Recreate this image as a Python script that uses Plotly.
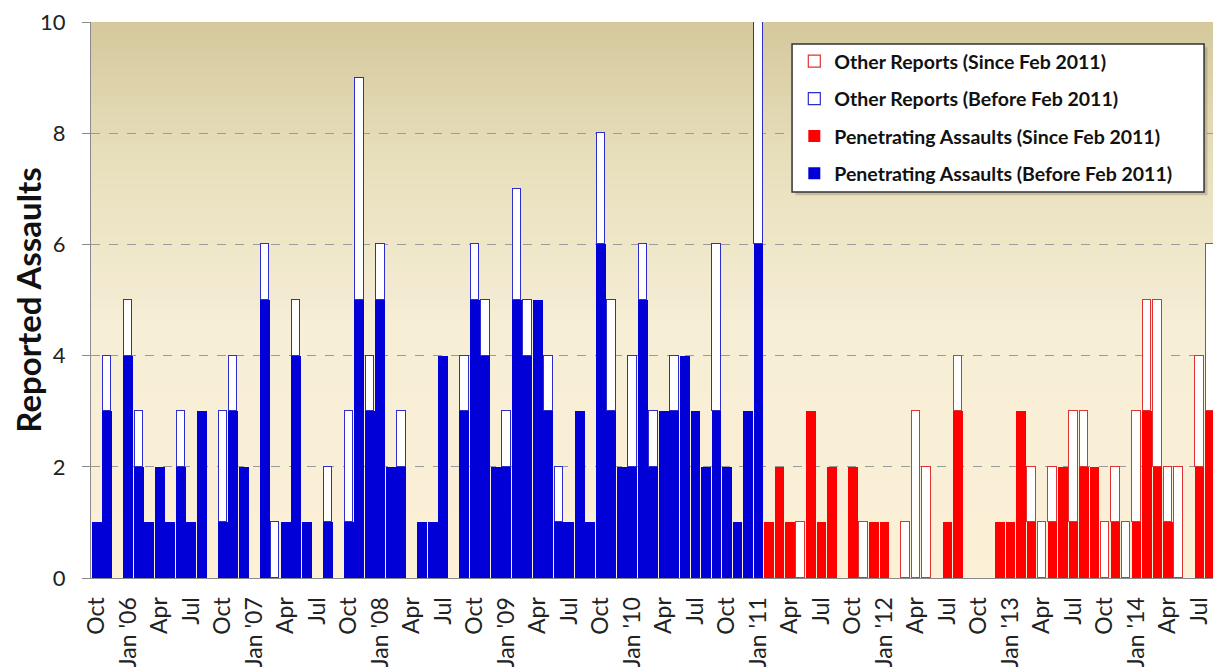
import plotly.graph_objects as go

# Month index 0 = Oct 2005 ... 107 = Sep 2014
# Before Feb 2011: index 0..63 (Oct 2005 .. Jan 2011)
pen_before = [1, 3, 0, 4, 2, 1, 2, 1, 2, 1, 3, 0,
              1, 3, 2, 0, 5, 0, 1, 4, 1, 0, 1, 0,
              1, 5, 3, 5, 2, 2, 0, 1, 1, 4, 0, 3,
              5, 4, 2, 2, 5, 4, 5, 3, 1, 1, 3, 1,
              6, 3, 2, 2, 5, 2, 3, 3, 4, 3, 2, 3,
              2, 1, 3, 6]
other_before = [0, 1, 0, 1, 1, 0, 0, 0, 1, 0, 0, 0,
                2, 1, 0, 0, 1, 1, 0, 1, 0, 0, 1, 0,
                2, 4, 1, 1, 0, 1, 0, 0, 0, 0, 0, 1,
                1, 1, 0, 1, 2, 1, 0, 1, 1, 0, 0, 0,
                2, 2, 0, 2, 1, 1, 0, 1, 0, 0, 0, 3,
                0, 0, 0, 4]
# Since Feb 2011: index 64..107 (Feb 2011 .. Sep 2014)
pen_since = [1, 2, 1, 0, 3, 1, 2, 0, 2, 0, 1,
             1, 0, 0, 0, 0, 0, 1, 3, 0, 0, 0, 1,
             1, 3, 1, 0, 1, 2, 1, 2, 2, 0, 1, 0,
             1, 3, 2, 1, 0, 0, 2, 3, 0]
other_since = [0, 0, 0, 1, 0, 0, 0, 0, 0, 1, 0,
               0, 0, 1, 3, 2, 0, 0, 1, 0, 0, 0, 0,
               0, 0, 1, 1, 1, 0, 2, 1, 0, 1, 1, 1,
               2, 2, 3, 1, 2, 0, 2, 3, 2]

tick_labels = ["Oct", "Jan '06", "Apr", "Jul", "Oct", "Jan '07", "Apr", "Jul",
               "Oct", "Jan '08", "Apr", "Jul", "Oct", "Jan '09", "Apr", "Jul",
               "Oct", "Jan '10", "Apr", "Jul", "Oct", "Jan '11", "Apr", "Jul",
               "Oct", "Jan '12", "Apr", "Jul", "Oct", "Jan '13", "Apr", "Jul",
               "Oct", "Jan '14", "Apr", "Jul"]

x_before = list(range(len(pen_before)))
x_since = list(range(len(pen_before), len(pen_before) + len(pen_since)))
tick_vals = [3 * k for k in range(len(tick_labels))]


def nz(vals):
    # zero-height segments are not drawn (avoid stray outlines on the axis)
    return [v if v else None for v in vals]


BLUE = "rgb(0,0,215)"
RED = "rgb(255,0,0)"
FONT = "Lato"

fig = go.Figure()
fig.add_trace(go.Bar(x=x_before, y=nz(pen_before), width=0.94,
                     name="Penetrating Assaults (Before Feb 2011)",
                     marker=dict(color=BLUE, line=dict(width=0)),
                     legendgroup="g4", legendrank=4))
fig.add_trace(go.Bar(x=x_since, y=nz(pen_since), width=0.9,
                     name="Penetrating Assaults (Since Feb 2011)",
                     marker=dict(color=RED, line=dict(width=0)),
                     legendgroup="g3", legendrank=3))
fig.add_trace(go.Bar(x=x_before, y=nz(other_before), width=0.78,
                     name="Other Reports (Before Feb 2011)",
                     marker=dict(color="white", line=dict(color="rgb(45,45,205)", width=1.2)),
                     legendgroup="g2", legendrank=2))
fig.add_trace(go.Bar(x=x_since, y=nz(other_since), width=0.78,
                     name="Other Reports (Since Feb 2011)",
                     marker=dict(color="white", line=dict(color="rgb(225,50,50)", width=1.2)),
                     legendgroup="g1", legendrank=1))

# vertical background gradient (plot area)
stops = [(0.0, (252, 240, 214)), (0.45, (246, 238, 214)),
         (0.75, (232, 223, 188)), (1.0, (212, 200, 156))]


def col_at(t):
    for (t0, c0), (t1, c1) in zip(stops[:-1], stops[1:]):
        if t0 <= t <= t1:
            f = (t - t0) / (t1 - t0)
            return "rgb(%d,%d,%d)" % tuple(round(a + (b - a) * f) for a, b in zip(c0, c1))
    return "rgb(%d,%d,%d)" % stops[-1][1]


n_bands = 60
shapes = []
for k in range(n_bands):
    y0 = k / n_bands
    y1 = (k + 1) / n_bands + 0.002
    shapes.append(dict(type="rect", xref="paper", yref="paper", x0=0, x1=1,
                       y0=y0, y1=min(y1, 1), layer="below", line=dict(width=0),
                       fillcolor=col_at((k + 0.5) / n_bands)))

# legend box (drawn as shapes so its size matches) + soft shadow
LX0, LX1, LY0, LY1 = 0.6204, 0.985, 0.6942, 0.9604
shapes.append(dict(type="rect", xref="paper", yref="paper",
                   x0=LX0 + 0.003, x1=LX1 + 0.003, y0=LY0 - 0.006, y1=LY1 - 0.006,
                   layer="above", line=dict(width=0), fillcolor="rgba(90,80,50,0.25)"))
shapes.append(dict(type="rect", xref="paper", yref="paper",
                   x0=LX0, x1=LX1, y0=LY0, y1=LY1,
                   layer="above", line=dict(color="#333333", width=1.5), fillcolor="white"))

fig.update_layout(
    width=1213, height=659,
    margin=dict(l=83, r=0, t=14, b=89, autoexpand=False),
    paper_bgcolor="white",
    plot_bgcolor="rgb(246,238,214)",
    barmode="stack",
    bargap=0,
    shapes=shapes,
    font=dict(family=FONT, color="#222222"),
    showlegend=True,
    legend=dict(x=LX0 + 0.002, y=0.964, xanchor="left", yanchor="top",
                bgcolor="rgba(0,0,0,0)", borderwidth=0,
                font=dict(family=FONT, size=19.5, color="#111111", weight="bold"),
                traceorder="grouped", tracegroupgap=9),
    xaxis=dict(range=[-0.56, 107.05], tickmode="array", tickvals=tick_vals,
               ticktext=tick_labels, tickangle=-90, showgrid=False,
               showline=True, linecolor="#8a8a8a", linewidth=1,
               ticks="", ticklabelstandoff=9, zeroline=False, automargin=False,
               ticklabeloverflow="allow",
               tickfont=dict(family=FONT, size=23, color="#222222")),
    yaxis=dict(range=[0, 10], tickmode="array", tickvals=[0, 2, 4, 6, 8, 10],
               showgrid=True, gridcolor="#9a9a9a", griddash="dash", gridwidth=1,
               showline=True, linecolor="#8a8a8a", linewidth=1,
               ticks="outside", ticklen=8, tickcolor="#8a8a8a",
               ticklabelstandoff=12, zeroline=False, automargin=False,
               ticklabeloverflow="allow",
               tickfont=dict(family=FONT, size=22, color="#222222"),
               title=dict(text="Reported Assaults", standoff=5,
                          font=dict(family=FONT, size=33, color="#111111", weight="bold"))),
)

fig.write_html("out.html")
